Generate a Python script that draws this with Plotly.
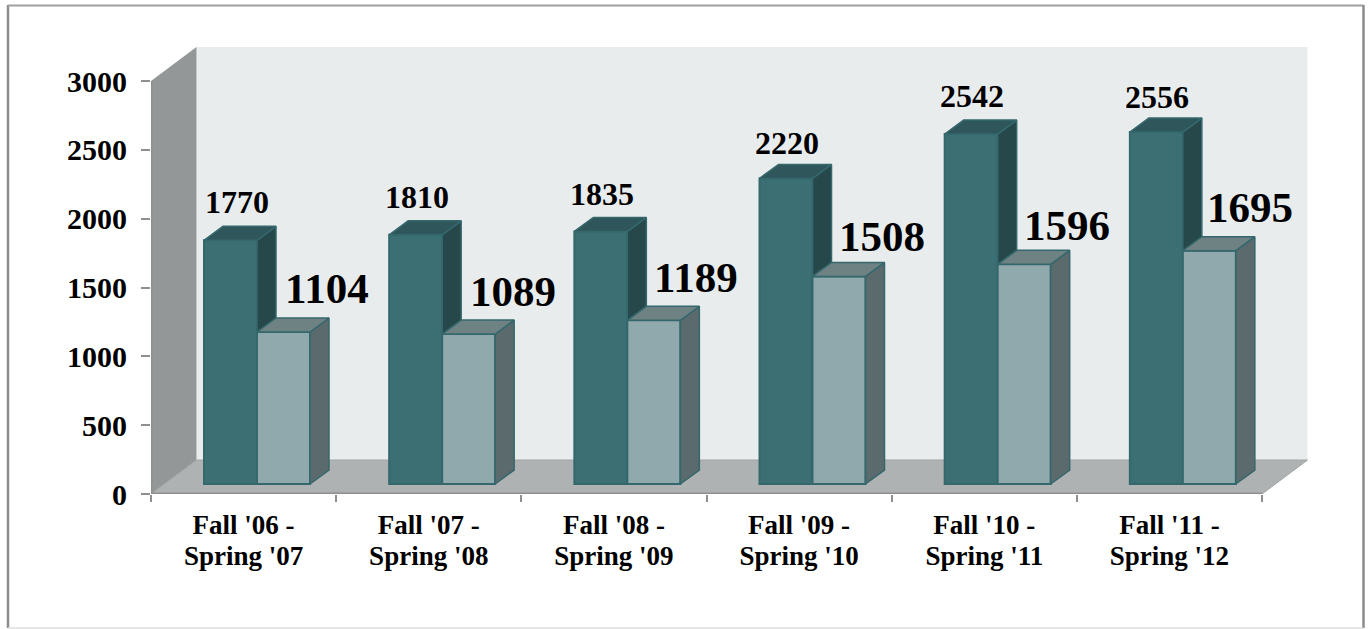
import plotly.graph_objects as go

categories_line1 = ["Fall '06 -", "Fall '07 -", "Fall '08 -", "Fall '09 -", "Fall '10 -", "Fall '11 -"]
categories_line2 = ["Spring '07", "Spring '08", "Spring '09", "Spring '10", "Spring '11", "Spring '12"]
series_a = [1770, 1810, 1835, 2220, 2542, 2556]
series_b = [1104, 1089, 1189, 1508, 1596, 1695]
y_ticks = [0, 500, 1000, 1500, 2000, 2500, 3000]

# ---- geometry / style constants ----
W, H = 1369, 629
L, R, T, B = 151, 49, 47, 135
PPX = 185.17                 # px per category
PPY = 413 / 3000             # px per value unit
plot_w = W - L - R
plot_h = H - T - B
XMAX = plot_w / PPX
YMAX = plot_h / PPY
FONT = "Liberation Serif"
n = len(categories_line1)

WALL_DX, WALL_DY = 45.5 / PPX, 34 / PPY
BASE = 10 / PPY
DX, DY = 19 / PPX, 14 / PPY
X0, BW = 53 / PPX, 53 / PPX

DARK, DARK_SIDE, DARK_TOP = "#3b6f74", "#27484b", "#2f565a"
LIGHT, LIGHT_SIDE, LIGHT_TOP = "#90a9ad", "#5a6a6d", "#6f8283"
EDGE = "#35686d"
AXIS = "#8f8f8f"


def faces(left, vals):
    sx, sy, tx, ty = [], [], [], []
    for i, v in enumerate(vals):
        xl = i + left
        xr = xl + BW
        top = BASE + v
        sx += [xr, xr + DX, xr + DX, xr, xr, None]
        sy += [BASE, BASE + DY, top + DY, top, BASE, None]
        tx += [xl, xl + DX, xr + DX, xr, xl, None]
        ty += [top, top + DY, top + DY, top, top, None]
    return sx, sy, tx, ty


def add_series(fig, left, vals, front, side, topc, xa, ya, name):
    fig.add_trace(go.Bar(x=[i + left + BW / 2 for i in range(n)], y=vals, base=BASE, width=BW,
                         marker=dict(color=front, line=dict(color=EDGE, width=2)),
                         name=name, xaxis=xa, yaxis=ya, hoverinfo="y"))
    sx, sy, tx, ty = faces(left, vals)
    for xs, ys, c in ((sx, sy, side), (tx, ty, topc)):
        fig.add_trace(go.Scatter(x=xs, y=ys, mode="lines", fill="toself", fillcolor=c,
                                 line=dict(color=EDGE, width=1.5), xaxis=xa, yaxis=ya,
                                 hoverinfo="skip", showlegend=False))


fig = go.Figure()
add_series(fig, X0, series_a, DARK, DARK_SIDE, DARK_TOP, "x", "y", "A")
add_series(fig, X0 + BW, series_b, LIGHT, LIGHT_SIDE, LIGHT_TOP, "x2", "y2", "B")
# y axis line only up to the top tick
fig.add_trace(go.Scatter(x=[0, 0], y=[0, y_ticks[-1]], mode="lines", line=dict(color=AXIS, width=3),
                         hoverinfo="skip", cliponaxis=False, xaxis="x2", yaxis="y2"))

shapes = [
    dict(type="path", xref="x", yref="y", layer="below", fillcolor="#e9eced", line_width=0,
         path=f"M {WALL_DX} {WALL_DY} L {WALL_DX} {YMAX} L {n + WALL_DX} {YMAX} L {n + WALL_DX} {WALL_DY} Z"),
    dict(type="path", xref="x", yref="y", layer="below", fillcolor="#939797", line_width=0,
         path=f"M 0 0 L 0 {y_ticks[-1]} L {WALL_DX} {YMAX} L {WALL_DX} {WALL_DY} Z"),
    dict(type="path", xref="x", yref="y", layer="below", fillcolor="#aeb2b2",
         line=dict(color="#a0a3a3", width=1),
         path=f"M 0 0 L {WALL_DX} {WALL_DY} L {n + WALL_DX} {WALL_DY} L {n} 0 Z"),
    dict(type="line", xref="x", yref="y", layer="above", x0=0, x1=n, y0=0, y1=0,
         line=dict(color=AXIS, width=3)),
]


def px(x):
    return (x - L) / plot_w


def py(y):
    return (H - B - y) / plot_h


FRAME = "#8c8c8c"
for (x0, y0, x1, y1, c, w) in [(8, 5, 8, 628, FRAME, 2.5), (8, 5.5, 1363.5, 5.5, "#a0a0a0", 2),
                               (1363.5, 5, 1363.5, 628, FRAME, 2.5), (8, 628, 1363.5, 628, "#dddddd", 1.5)]:
    shapes.append(dict(type="line", xref="paper", yref="paper", x0=px(x0), x1=px(x1), y0=py(y0), y1=py(y1),
                       line=dict(color=c, width=w)))

a_dx = [86, 81, 81, 80.5, 80, 80]
a_up = [38, 38, 37, 35, 38, 35]
b_dx = [176, 177, 175, 175.5, 175, 173]
b_up = [44, 43, 43, 40, 39, 43]
annos = []
for i in range(n):
    annos.append(dict(x=i, y=BASE + series_a[i], text=str(series_a[i]), showarrow=False,
                      xref="x", yref="y", xshift=a_dx[i], yshift=a_up[i],
                      font=dict(family=FONT, size=32, color="black", weight="bold")))
    annos.append(dict(x=i, y=BASE + series_b[i], text=str(series_b[i]), showarrow=False,
                      xref="x", yref="y", xshift=b_dx[i], yshift=b_up[i],
                      font=dict(family=FONT, size=43, color="black", weight="bold")))

CAT_FONT = dict(family=FONT, size=27, color="black", weight="bold")
axis_x = dict(range=[0, XMAX], showgrid=False, zeroline=False, showline=False,
              tickmode="array", tickvals=[i + 0.5 for i in range(n)], ticktext=categories_line1,
              ticks="", tickfont=CAT_FONT,
              minor=dict(tickmode="array", tickvals=list(range(n + 1)), ticks="outside",
                         ticklen=7, tickcolor=AXIS, tickwidth=1.5, showgrid=False),
              ticklabelstandoff=12)
axis_x2 = dict(range=[0, XMAX], overlaying="x", matches="x", side="bottom", showgrid=False, zeroline=False,
               showline=False, tickmode="array", tickvals=[i + 0.5 for i in range(n)],
               ticktext=categories_line2, ticks="", tickfont=CAT_FONT, ticklabelstandoff=43)
axis_y = dict(range=[0, YMAX], showgrid=False, zeroline=False, showline=False,
              tickmode="array", tickvals=y_ticks, ticks="outside", ticklen=9, tickcolor=AXIS, tickwidth=2,
              tickfont=dict(family=FONT, size=30, color="black", weight="bold"), ticklabelstandoff=8)

fig.update_layout(
    width=W, height=H, autosize=False, margin=dict(l=L, r=R, t=T, b=B, pad=0),
    paper_bgcolor="white", plot_bgcolor="rgba(0,0,0,0)", showlegend=False, barmode="overlay",
    xaxis=axis_x, yaxis=axis_y, xaxis2=axis_x2,
    yaxis2=dict(range=[0, YMAX], overlaying="y", visible=False, matches="y"),
    shapes=shapes, annotations=annos,
)
fig.write_html("out.html", config={"displayModeBar": False},
               post_script="document.body.style.margin='0';document.body.style.overflow='hidden';")
